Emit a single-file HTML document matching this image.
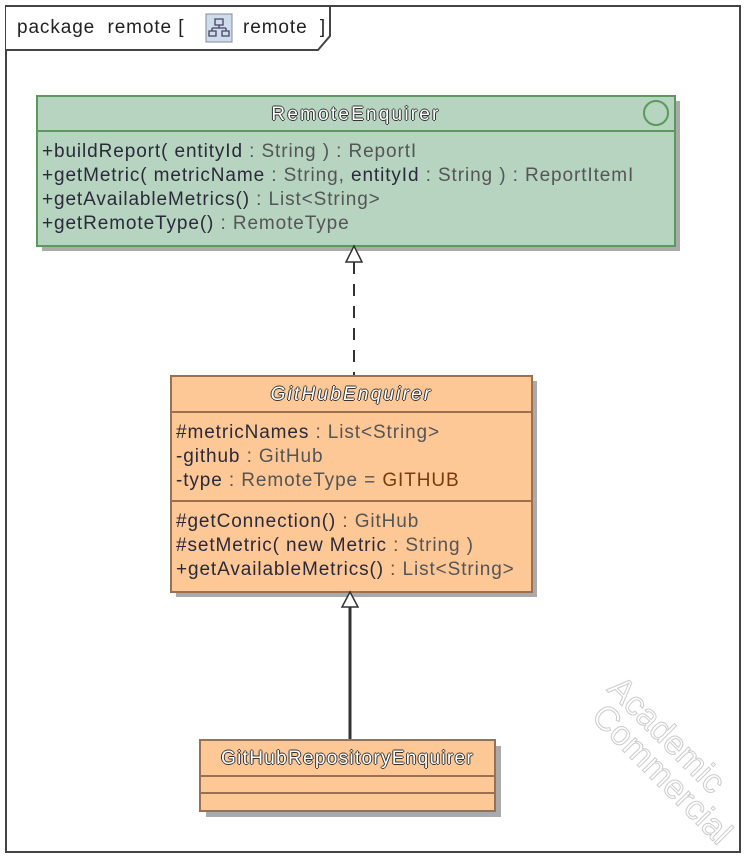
<!DOCTYPE html>
<html><head><meta charset="utf-8"><style>
body{margin:0;width:745px;height:858px;background:#fff;font-family:"Liberation Sans",sans-serif;position:relative;overflow:hidden}
.a{position:absolute;box-sizing:border-box}
.t{position:absolute;font-size:19px;letter-spacing:0.9px;color:#2a2a3a;white-space:nowrap;line-height:24px}
.g{color:#555}
.ttl{color:#fff;text-shadow:-1px 0 #333,1px 0 #333,0 -1px #333,0 1px #333;letter-spacing:2.2px}
</style></head><body>
<svg class="a" style="left:0;top:0" width="745" height="858">
<rect x="6" y="6" width="734" height="846" fill="none" stroke="#444" stroke-width="2"/>
<path d="M6 6 H330 V36 L318 50 H6" fill="#fff" stroke="#444" stroke-width="2"/>
<rect x="206" y="14" width="26" height="28" fill="#cfdcec" stroke="#889"/>
<path d="M215 19h8v6h-8z M219 25v3 M212 28h14 M212 28v3 M226 28v3 M209 31h7v5h-7z M222 31h7v5h-7z" fill="none" stroke="#446" stroke-width="1.3"/>
<rect x="42" y="101" width="638" height="150" fill="#aaa"/>
<rect x="37" y="96" width="638" height="150" fill="#b6d4c0" stroke="#5a9a5a" stroke-width="2"/>
<line x1="37" y1="131" x2="675" y2="131" stroke="#5a9a5a" stroke-width="2"/>
<circle cx="656" cy="113" r="12" fill="none" stroke="#5a9a5a" stroke-width="2"/>
<line x1="354" y1="262" x2="354" y2="376" stroke="#333" stroke-width="2" stroke-dasharray="12,10"/>
<path d="M346 262 L354 246 L362 262 Z" fill="#fff" stroke="#333" stroke-width="1.5"/>
<rect x="176" y="381" width="361" height="216" fill="#aaa"/>
<rect x="171" y="376" width="361" height="216" fill="#fdc796" stroke="#9a7050" stroke-width="2"/>
<line x1="171" y1="412" x2="532" y2="412" stroke="#9a7050" stroke-width="2"/>
<line x1="171" y1="501" x2="532" y2="501" stroke="#9a7050" stroke-width="2"/>
<line x1="350" y1="607" x2="350" y2="740" stroke="#333" stroke-width="3"/>
<path d="M342 607 L350 592 L358 607 Z" fill="#fff" stroke="#333" stroke-width="1.5"/>
<rect x="206" y="746" width="295" height="71" fill="#aaa"/>
<rect x="200" y="740" width="295" height="71" fill="#fdc796" stroke="#9a7050" stroke-width="2"/>
<line x1="200" y1="776" x2="495" y2="776" stroke="#9a7050" stroke-width="2"/>
<line x1="200" y1="793" x2="495" y2="793" stroke="#9a7050" stroke-width="2"/>
<text x="606" y="690" transform="rotate(45 606 690)" font-family="Liberation Sans" font-size="34" fill="#fff" stroke="#ccc">Academic</text>
<text x="590" y="718" transform="rotate(45 590 718)" font-family="Liberation Sans" font-size="34" fill="#fff" stroke="#ccc">Commercial</text>
</svg>
<div class="t" style="left:17px;top:16px;color:#222">package&nbsp;&nbsp;remote [</div>
<div class="t" style="left:243px;top:16px;color:#222">remote&nbsp;&nbsp;]</div>
<div class="t ttl" style="left:37px;width:638px;top:103px;text-align:center">RemoteEnquirer</div>
<div class="t" style="left:42px;top:140px">+buildReport( entityId <span class="g">: String ) : ReportI</span></div>
<div class="t" style="left:42px;top:164px">+getMetric( metricName <span class="g">: String,</span> entityId <span class="g">: String ) : ReportItemI</span></div>
<div class="t" style="left:42px;top:188px">+getAvailableMetrics() <span class="g">: List&lt;String&gt;</span></div>
<div class="t" style="left:42px;top:212px">+getRemoteType() <span class="g">: RemoteType</span></div>
<div class="t ttl" style="left:171px;width:361px;top:383px;text-align:center;font-style:italic">GitHubEnquirer</div>
<div class="t" style="left:176px;top:421px">#metricNames <span class="g">: List&lt;String&gt;</span></div>
<div class="t" style="left:176px;top:445px">-github <span class="g">: GitHub</span></div>
<div class="t" style="left:176px;top:469px">-type <span class="g">: RemoteType = </span><span style="color:#7a3a10">GITHUB</span></div>
<div class="t" style="left:176px;top:510px">#getConnection() <span class="g">: GitHub</span></div>
<div class="t" style="left:176px;top:534px">#setMetric( new Metric <span class="g">: String )</span></div>
<div class="t" style="left:176px;top:558px">+getAvailableMetrics() <span class="g">: List&lt;String&gt;</span></div>
<div class="t ttl" style="left:200px;width:295px;top:747px;text-align:center;letter-spacing:1.3px">GitHubRepositoryEnquirer</div>
</body></html>
